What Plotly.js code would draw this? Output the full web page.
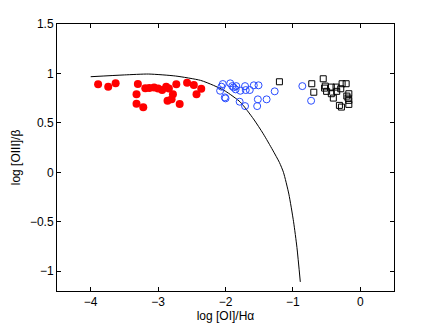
<!DOCTYPE html>
<html>
<head>
<meta charset="utf-8">
<script src="https://cdn.plot.ly/plotly-3.0.1.min.js"></script>
<style>
  body { margin: 0; background: #fff; }
  #chart { width: 436px; height: 328px; }
</style>
</head>
<body>
<div id="chart"></div>
<script>
// demarcation curve
var curveX = [-4.0, -3.5, -3.14, -2.74, -2.37, -2.18, -2.0, -1.78, -1.585, -1.44, -1.30, -1.20, -1.14, -1.06, -0.99, -0.94, -0.89];
var curveY = [0.967, 0.985, 0.994, 0.974, 0.93, 0.88, 0.82, 0.71, 0.54, 0.39, 0.225, 0.10, 0.0, -0.22, -0.5, -0.76, -1.108];

// red filled circles
var redX = [-3.89, -3.74, -3.63, -3.30, -3.32, -3.32, -3.22, -3.19, -3.13, -3.06, -3.00, -2.94, -2.88, -2.84, -2.78, -2.86, -2.80, -2.73, -2.68, -2.57, -2.47, -2.43, -2.36];
var redY = [0.89, 0.865, 0.90, 0.893, 0.79, 0.693, 0.657, 0.85, 0.852, 0.859, 0.849, 0.832, 0.865, 0.849, 0.79, 0.724, 0.738, 0.89, 0.69, 0.906, 0.883, 0.79, 0.845];

// blue open circles
var blueX = [-2.04, -2.06, -2.08, -2.01, -2.0, -1.93, -1.90, -1.88, -1.85, -1.84, -1.78, -1.79, -1.71, -1.71, -1.70, -1.64, -1.58, -1.51, -1.52, -1.53, -1.39, -1.27, -0.86, -0.73];
var blueY = [0.893, 0.866, 0.825, 0.758, 0.748, 0.90, 0.872, 0.859, 0.839, 0.872, 0.825, 0.714, 0.872, 0.67, 0.832, 0.832, 0.88, 0.88, 0.738, 0.67, 0.738, 0.819, 0.872, 0.724];

// black open squares
var sqX = [-1.20, -0.72, -0.69, -0.55, -0.52, -0.53, -0.50, -0.43, -0.43, -0.40, -0.36, -0.35, -0.29, -0.27, -0.21, -0.17, -0.18, -0.17, -0.17, -0.20, -0.31, -0.28];
var sqY = [0.916, 0.896, 0.81, 0.946, 0.872, 0.852, 0.819, 0.862, 0.795, 0.751, 0.862, 0.819, 0.845, 0.896, 0.896, 0.795, 0.751, 0.728, 0.687, 0.771, 0.677, 0.66];

var data = [{
    x: curveX,
    y: curveY,
    type: 'scatter',
    mode: 'lines',
    line: { color: '#000', width: 1, shape: 'spline', smoothing: 0.6 }
}, {
    x: redX,
    y: redY,
    type: 'scatter',
    mode: 'markers',
    marker: { symbol: 'circle', size: 8, color: '#ff0000', line: { width: 0 } }
}, {
    x: blueX,
    y: blueY,
    type: 'scatter',
    mode: 'markers',
    marker: { symbol: 'circle-open', size: 7, color: '#2a4dff', line: { width: 1 } }
}, {
    x: sqX,
    y: sqY,
    type: 'scatter',
    mode: 'markers',
    marker: { symbol: 'square-open', size: 6, color: '#000', line: { width: 1 } }
}];

var axisStyle = {
    showline: true,
    linecolor: '#000',
    linewidth: 1,
    mirror: 'ticks',
    ticks: 'inside',
    ticklen: 4,
    tickcolor: '#000',
    showgrid: false,
    zeroline: false,
    tickfont: { family: 'Liberation Sans, Arial, sans-serif', size: 12, color: '#000' }
};

var layout = {
    width: 436,
    height: 328,
    margin: { l: 57, r: 42, t: 24, b: 37 },
    paper_bgcolor: '#fff',
    plot_bgcolor: '#fff',
    showlegend: false,
    xaxis: Object.assign({}, axisStyle, {
        range: [-4.5, 0.5],
        tickvals: [-4, -3, -2, -1, 0],
        title: { text: 'log [OI]/H\u03b1', standoff: 2, font: { family: 'Liberation Sans, Arial, sans-serif', size: 12, color: '#000' } }
    }),
    yaxis: Object.assign({}, axisStyle, {
        range: [-1.2, 1.5],
        tickvals: [-1, -0.5, 0, 0.5, 1, 1.5],
        ticktext: ['\u22121', '\u22120.5', '0', '0.5', '1', '1.5'],
        title: { text: 'log [OIII]/\u03b2', standoff: 6, font: { family: 'Liberation Sans, Arial, sans-serif', size: 12, color: '#000' } }
    })
};

Plotly.newPlot('chart', data, layout, { displayModeBar: false, staticPlot: true });
</script>
</body>
</html>
